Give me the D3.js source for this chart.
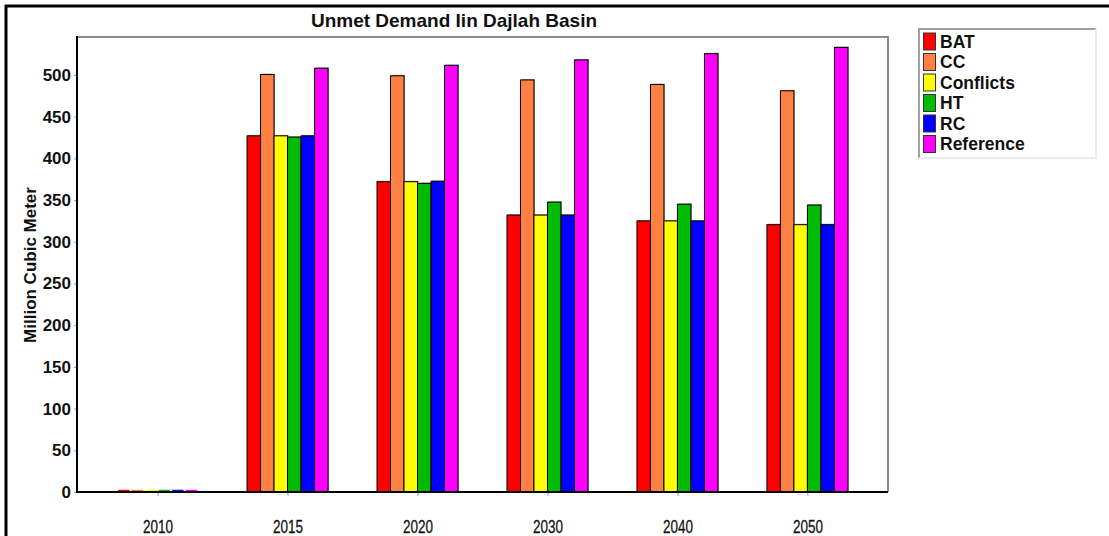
<!DOCTYPE html>
<html>
<head>
<meta charset="utf-8">
<script src="https://cdn.jsdelivr.net/npm/d3@7"></script>
<style>
  html, body { margin: 0; padding: 0; background: #fff; }
  svg { display: block; }
  text { font-family: "Liberation Sans", Arial, sans-serif; fill: #111; }
</style>
</head>
<body>
<script>
// Unmet demand by scenario and year (million cubic meter)
const years = ["2010", "2015", "2020", "2030", "2040", "2050"];
const scenarios = ["BAT", "CC", "Conflicts", "HT", "RC", "Reference"];
const colors = ["#ff0000", "#ff8040", "#ffff00", "#00bb00", "#0000ff", "#ff00ff"];
const BAT       = [0, 427, 372, 332, 325, 320.5];
const CC        = [0, 500.5, 499, 494, 488.5, 481];
const Conflicts = [0, 427, 372, 332, 325, 320.5];
const HT        = [0, 425.5, 370, 347.5, 345, 344];
const RC        = [0, 427, 372.5, 332, 325, 320.5];
const Reference = [0, 508, 511.5, 518, 525.5, 533];
const yTicks = [0, 50, 100, 150, 200, 250, 300, 350, 400, 450, 500];

const seriesValues = [BAT, CC, Conflicts, HT, RC, Reference];
const rows = [];
years.forEach((yr, i) => {
  scenarios.forEach((s, j) => rows.push({ year: yr, scenario: s, value: seriesValues[j][i], color: colors[j] }));
});

const W = 1109, H = 536;
const plot = { left: 77, right: 888, top: 37, bottom: 492 };

const svg = d3.select("body").append("svg").attr("width", W).attr("height", H);

// outer frame (top and left edges)
svg.append("line").attr("x1", 5).attr("x2", W).attr("y1", 6).attr("y2", 6)
  .attr("stroke", "#000").attr("stroke-width", 3);
svg.append("line").attr("x1", 6).attr("x2", 6).attr("y1", 5).attr("y2", H)
  .attr("stroke", "#000").attr("stroke-width", 3);

const x = d3.scalePoint().domain(years).range([plot.left, plot.right]).padding(0.62);
const groupW = 81;
const xs = d3.scaleBand().domain(scenarios).range([-groupW / 2, groupW / 2]).padding(0);
const y = d3.scaleLinear().domain([0, 545.5]).range([plot.bottom, plot.top]);

// plot frame: grey top and right
svg.append("path")
  .attr("d", `M${plot.left},${plot.top}H${plot.right}V${plot.bottom}`)
  .attr("fill", "none").attr("stroke", "#8a8a8a").attr("stroke-width", 2);

// bars
const barG = svg.append("g");
const nonZero = rows.filter(d => d.value > 0);
barG.selectAll("rect.shadow").data(nonZero).join("rect")
  .attr("class", "shadow")
  .attr("x", d => x(d.year) + xs(d.scenario) + 1)
  .attr("y", d => y(d.value) - 1)
  .attr("width", xs.bandwidth())
  .attr("height", d => y(0) - y(d.value))
  .attr("fill", "#a8a8a8");
barG.selectAll("rect.bar").data(nonZero).join("rect")
  .attr("class", "bar")
  .attr("x", d => x(d.year) + xs(d.scenario))
  .attr("y", d => y(d.value))
  .attr("width", xs.bandwidth())
  .attr("height", d => y(0) - y(d.value))
  .attr("fill", d => d.color)
  .attr("stroke", "#000").attr("stroke-width", 1);
// zero-valued bars show as a thin coloured line on the baseline
barG.selectAll("line.zero").data(rows.filter(d => d.value === 0)).join("line")
  .attr("class", "zero")
  .attr("x1", d => x(d.year) + xs(d.scenario) + 1)
  .attr("x2", d => x(d.year) + xs(d.scenario) + xs.bandwidth() - 1)
  .attr("y1", d => y(d.value) - 1.5).attr("y2", d => y(d.value) - 1.5)
  .attr("stroke", d => d.color).attr("stroke-width", 1.5);

// y axis
const yAxis = d3.axisLeft(y).tickValues(yTicks).tickSize(3).tickPadding(3);
const gy = svg.append("g").attr("transform", `translate(${plot.left},0)`).call(yAxis);
gy.select(".domain").remove();
gy.selectAll(".tick line").attr("stroke", "#999");
gy.selectAll(".tick text").attr("font-family", "Liberation Sans, Arial, sans-serif")
  .attr("font-size", 17).attr("font-weight", "bold").attr("fill", "#111");
svg.append("line").attr("x1", plot.left).attr("x2", plot.left)
  .attr("y1", plot.top - 1).attr("y2", plot.bottom + 1)
  .attr("stroke", "#000").attr("stroke-width", 2);

// x axis
const xAxis = d3.axisBottom(x).tickSize(4).tickPadding(0);
const gx = svg.append("g").attr("transform", `translate(0,${plot.bottom})`).call(xAxis);
gx.select(".domain").remove();
gx.selectAll(".tick line").attr("stroke", "#999");
gx.selectAll(".tick text")
  .attr("font-family", "Liberation Sans Narrow, Arial Narrow, Liberation Sans, sans-serif")
  .attr("font-size", 18).attr("fill", "#151515")
  .attr("stroke", "#151515").attr("stroke-width", 0.3)
  .attr("textLength", 30).attr("lengthAdjust", "spacingAndGlyphs")
  .attr("y", 41).attr("dy", 0);
svg.append("line").attr("x1", plot.left - 1).attr("x2", plot.right)
  .attr("y1", plot.bottom).attr("y2", plot.bottom)
  .attr("stroke", "#000").attr("stroke-width", 2);

// title
svg.append("text").attr("x", 454).attr("y", 27).attr("text-anchor", "middle")
  .attr("font-size", 19).attr("font-weight", "bold")
  .text("Unmet Demand Iin Dajlah Basin");

// y axis title
svg.append("text")
  .attr("transform", `translate(36,265) rotate(-90)`)
  .attr("text-anchor", "middle")
  .attr("font-size", 17).attr("font-weight", "bold")
  .text("Million Cubic Meter");

// legend
const lg = svg.append("g");
const lx = 919, ly = 29, lw = 177, lh = 129;
lg.append("rect").attr("x", lx).attr("y", ly).attr("width", lw).attr("height", lh)
  .attr("fill", "#fff");
lg.append("path").attr("d", `M${lx},${ly + lh}V${ly}H${lx + lw}`)
  .attr("fill", "none").attr("stroke", "#a0a0a0").attr("stroke-width", 2);
lg.append("path").attr("d", `M${lx + lw},${ly}V${ly + lh}H${lx}`)
  .attr("fill", "none").attr("stroke", "#ececec").attr("stroke-width", 2);
const items = lg.selectAll("g.item").data(scenarios).join("g")
  .attr("class", "item")
  .attr("transform", (d, i) => `translate(${lx + 4},${ly + 3.5 + i * 20.5})`);
items.append("rect").attr("x", 0.5).attr("y", 0.5).attr("width", 12).attr("height", 17)
  .attr("fill", (d, i) => colors[i]).attr("stroke", "#333").attr("stroke-width", 1);
items.append("text").attr("x", 17).attr("y", 15)
  .attr("font-size", 17.5).attr("font-weight", "bold")
  .text(d => d);
</script>
</body>
</html>
